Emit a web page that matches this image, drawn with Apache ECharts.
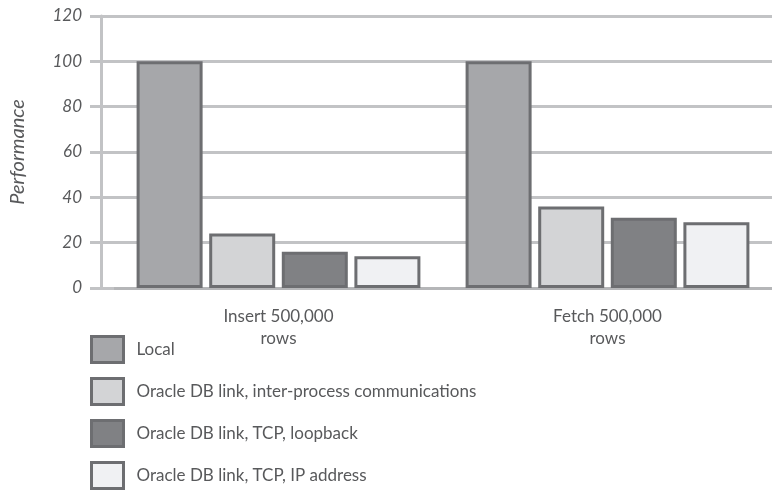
<!DOCTYPE html>
<html>
<head>
<meta charset="utf-8">
<script src="https://cdn.jsdelivr.net/npm/echarts@6/dist/echarts.min.js"></script>
<style>html,body{margin:0;padding:0;background:#fff}#c{width:772px;height:491px}</style>
</head>
<body>
<div id="c"></div>
<script>
const categories = ['Insert 500,000 rows', 'Fetch 500,000 rows'];
const seriesNames = ['Local', 'Oracle DB link, inter-process communications', 'Oracle DB link, TCP, loopback', 'Oracle DB link, TCP, IP address'];
const localVals = [100, 100];
const ipcVals = [24, 36];
const loopbackVals = [16, 31];
const ipVals = [14, 29];
const colors = ['#a6a7aa', '#d3d4d6', '#808184', '#f0f1f3'];
const allVals = [localVals, ipcVals, loopbackVals, ipVals];

const font = 'Lato';
const chart = echarts.init(document.getElementById('c'));
chart.setOption({
  animation: false,
  textStyle: {fontFamily: font},
  grid: {left: 110, right: 0, top: 16, bottom: 203},
  legend: seriesNames.map((n, i) => ({
    orient: 'vertical', left: 90, top: 335 + i * 42, padding: 0,
    itemWidth: 32, itemHeight: 26,
    icon: 'rect',
    itemStyle: {borderColor: '#6d6e71', borderWidth: 3},
    textStyle: {fontFamily: font, fontSize: 17, color: '#58595b', padding: [0, 0, 0, 8]},
    data: [n]
  })),
  xAxis: {
    type: 'category', data: categories,
    axisLine: {show: true, lineStyle: {color: '#b5b6b8', width: 3}},
    axisTick: {show: false},
    axisLabel: {margin: 18, fontSize: 17, color: '#58595b', lineHeight: 22,
      formatter: v => v.replace(' rows', '\nrows')}
  },
  yAxis: [{
    type: 'value', min: 0, max: 120, interval: 20,
    name: 'Performance', nameLocation: 'middle', nameGap: 86, nameRotate: 90,
    nameTextStyle: {fontSize: 20, color: '#58595b', fontStyle: 'italic'},
    axisLine: {show: false},
    axisTick: {show: true, length: 24, lineStyle: {color: '#c2c3c5', width: 3}},
    axisLabel: {margin: 32, fontSize: 17, color: '#58595b', fontStyle: 'italic'},
    splitLine: {lineStyle: {color: '#c2c3c5', width: 3}}
  }, {
    type: 'value', min: 0, max: 120, interval: 20, position: 'left', offset: 13,
    axisLine: {show: true, lineStyle: {color: '#c2c3c5', width: 3}},
    axisTick: {show: false}, axisLabel: {show: false}, splitLine: {show: false}
  }],
  series: seriesNames.map((n, i) => ({
    name: n, type: 'bar', yAxisIndex: 0,
    data: allVals[i],
    barWidth: 66, barGap: '10%',
    itemStyle: {color: colors[i], borderColor: '#6d6e71', borderWidth: 3}
  }))
});
</script>
</body>
</html>
